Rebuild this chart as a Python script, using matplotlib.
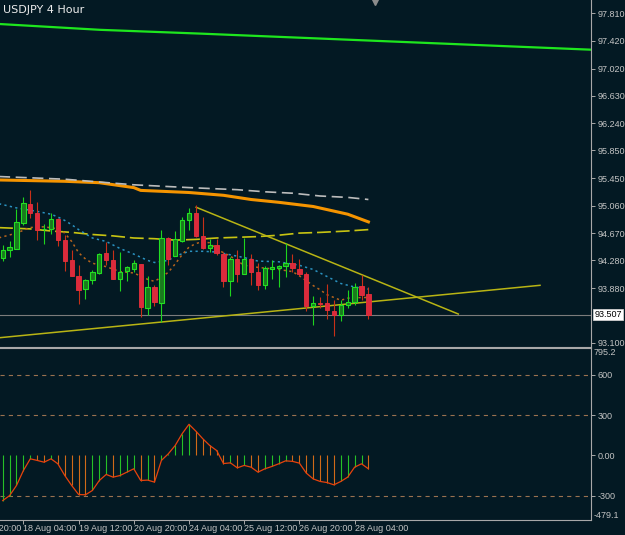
import numpy as np
import matplotlib
matplotlib.use('Agg')
import matplotlib.pyplot as plt
import matplotlib.transforms as mtransforms

plt.rcParams['lines.scale_dashes'] = False
plt.rcParams['font.family'] = ['Liberation Sans Narrow', 'Liberation Sans', 'DejaVu Sans']

# USDJPY H4 bars, bar 0 = 17 Aug 16:00
opens = [94.319, 94.424, 94.448, 94.819, 95.091, 94.962, 94.724, 94.734, 94.876, 94.567,
         94.291, 94.053, 93.867, 93.995, 94.105, 94.386, 94.291, 94.010, 94.124, 94.162,
         94.229, 93.600, 93.900, 93.672, 94.600, 94.338, 94.557, 94.853, 94.962, 94.624,
         94.462, 94.505, 94.376, 93.981, 94.305, 94.081, 94.295, 94.115, 93.924, 94.153,
         94.172, 94.195, 94.248, 94.162, 94.091, 93.629, 93.676, 93.672, 93.557, 93.505,
         93.638, 93.686, 93.910, 93.805]
highs = [94.505, 94.553, 95.010, 95.186, 95.281, 95.115, 94.805, 94.962, 94.886, 94.638,
         94.424, 94.219, 94.019, 94.138, 94.391, 94.543, 94.434, 94.400, 94.200, 94.281,
         94.234, 94.057, 93.934, 94.710, 94.615, 94.700, 94.900, 95.029, 95.067, 94.900,
         94.581, 94.591, 94.400, 94.329, 94.434, 94.600, 94.376, 94.248, 94.200, 94.281,
         94.210, 94.534, 94.376, 94.295, 94.115, 93.772, 93.757, 93.948, 93.710, 93.710,
         93.853, 93.962, 94.067, 93.900]
lows = [94.267, 94.329, 94.438, 94.791, 94.886, 94.567, 94.519, 94.662, 94.486, 94.124,
        94.053, 93.662, 93.724, 93.948, 94.091, 94.210, 94.010, 93.838, 93.981, 94.115,
        93.472, 93.495, 93.629, 93.400, 94.210, 94.338, 94.543, 94.710, 94.615, 94.448,
        94.400, 94.353, 93.900, 93.767, 93.972, 94.081, 93.924, 93.853, 93.876, 94.010,
        93.895, 94.043, 94.115, 94.057, 93.553, 93.362, 93.600, 93.448, 93.200, 93.410,
        93.605, 93.638, 93.719, 93.438]
closes = [94.434, 94.472, 94.829, 95.105, 94.962, 94.710, 94.734, 94.876, 94.567, 94.267,
          94.053, 93.853, 94.005, 94.115, 94.372, 94.281, 94.010, 94.115, 94.181, 94.243,
          93.615, 93.900, 93.686, 94.600, 94.305, 94.581, 94.853, 94.962, 94.624, 94.462,
          94.505, 94.391, 93.981, 94.295, 94.081, 94.305, 94.115, 93.934, 94.172, 94.181,
          94.195, 94.248, 94.172, 94.091, 93.629, 93.672, 93.657, 93.567, 93.505, 93.648,
          93.686, 93.900, 93.791, 93.505]
bid = 93.507

# moving averages, read at a few bars
green_ma_x = [-1, 14.1, 28.6, 85.3]
green_ma = [97.66, 97.574, 97.52, 97.29]
orange_ma_x = [-1, 9, 14, 19, 20, 27, 32, 36, 40, 45, 50, 53]
orange_ma = [95.43, 95.41, 95.39, 95.32, 95.28, 95.25, 95.21, 95.15, 95.11, 95.05, 94.94, 94.83]
gray_ma_x = [-1, 9, 14, 19, 27, 34, 38, 42, 46, 50, 53]
gray_ma = [95.48, 95.44, 95.40, 95.36, 95.32, 95.29, 95.26, 95.24, 95.20, 95.18, 95.15]
yellow_ma_x = [-1, 4, 7, 10, 13, 16, 19, 22, 25, 28, 31, 34, 37, 40, 43, 46, 50, 53]
yellow_ma = [94.75, 94.73, 94.70, 94.68, 94.65, 94.63, 94.60, 94.59, 94.57, 94.58, 94.60,
             94.61, 94.62, 94.64, 94.67, 94.68, 94.70, 94.72]
cyan_ma_x = [-1, 2, 5, 7, 8, 9, 10, 11, 13, 15, 17, 19, 21, 22, 24, 25, 27, 29, 31, 33,
             35, 37, 40, 43, 45, 47, 49, 51, 53]
cyan_ma = [95.10, 95.03, 94.98, 94.94, 94.90, 94.85, 94.79, 94.72, 94.60, 94.55, 94.45,
           94.37, 94.28, 94.25, 94.28, 94.34, 94.41, 94.41, 94.40, 94.36, 94.32, 94.27,
           94.26, 94.21, 94.15, 94.05, 93.95, 93.90, 93.87]
brown_ma_x = [-1, 2, 4, 6, 8, 9, 10, 11, 12, 13, 15, 17, 19, 21, 22, 23, 24, 25, 26, 27,
              28, 29, 30, 31, 32, 33, 35, 37, 40, 42, 43, 44, 45, 46, 47, 48, 49, 50, 52, 53]
brown_ma = [94.59, 94.67, 94.75, 94.76, 94.73, 94.67, 94.55, 94.39, 94.30, 94.24, 94.19,
            94.12, 94.10, 94.01, 93.98, 94.04, 94.11, 94.23, 94.36, 94.47, 94.52, 94.55,
            94.53, 94.44, 94.39, 94.34, 94.21, 94.18, 94.15, 94.12, 94.06, 93.99, 93.92,
            93.86, 93.79, 93.75, 93.71, 93.74, 93.75, 93.75]

# trendlines (bar, price)
trend_up_x = [-0.39, 77.87]
trend_up = [93.176, 93.924]
trend_down_x = [28.04, 66.03]
trend_down = [95.039, 93.514]

# oscillator
osc_vals = [-335, -298, -223, -112, -25, -37, -50, -25, -62, -149,
            -223, -290, -292, -260, -186, -141, -161, -149, -124, -99,
            -186, -183, -198, -37, 12, 74, 161, 231, 180, 124,
            74, 37, -60, -55, -92, -74, -87, -124, -99, -82,
            -62, -40, -44, -57, -131, -174, -193, -201, -218, -193,
            -161, -87, -62, -99]
osc_levels = [600, 300, -300]
osc_ticks = [600, 300, 0, -300]
osc_max, osc_min = 795.2, -479.1

price_ticks = [97.810, 97.420, 97.020, 96.630, 96.240, 95.850, 95.450, 95.060,
               94.670, 94.280, 93.880, 93.100]
time_pos = [-5, 3, 11, 19, 27, 35, 43, 51]
time_labels = ['14 Aug 20:00', '18 Aug 04:00', '19 Aug 12:00', '20 Aug 20:00',
               '24 Aug 04:00', '25 Aug 12:00', '26 Aug 20:00', '28 Aug 04:00']

BG = '#031923'
TXT = '#c4c4c4'
FRAME = '#a8a8a8'

W, H = 625, 535
fig = plt.figure(figsize=(W / 100, H / 100), dpi=100, facecolor=BG)
ax = fig.add_axes([0, 1 - 346.7 / H, 591 / W, 346.7 / H], facecolor=BG)
osc = fig.add_axes([0, 1 - 520 / H, 591 / W, (520 - 348.3) / H], facecolor=BG)

xlim = (-0.39, 85.26)

# ---- main panel
o, h, l, c = map(np.array, (opens, highs, lows, closes))
x = np.arange(len(o))
up = c >= o
wick_col = np.where(up, '#1ed41e', '#c83018')
ax.vlines(x, l, h, colors=wick_col, lw=0.8, zorder=4)
body_h = np.maximum(np.abs(c - o), 0.004)
ax.bar(x[up], body_h[up], bottom=np.minimum(o, c)[up], width=0.62,
       color='#1a7a1e', edgecolor='#22e022', lw=0.8, zorder=5)
ax.bar(x[~up], body_h[~up], bottom=np.minimum(o, c)[~up], width=0.62,
       color='#dc2a3c', edgecolor='#e8303c', lw=0.6, zorder=5)

ax.plot(green_ma_x, green_ma, color='#1ee61e', lw=1.6, zorder=3)
ax.plot(orange_ma_x, orange_ma, color='#f59400', lw=2.2, zorder=3)
ax.plot(gray_ma_x, gray_ma, color='#bcbcbc', lw=1.2, dashes=(8, 4), zorder=3)
ax.plot(yellow_ma_x, yellow_ma, color='#c8c412', lw=1.2, dashes=(10, 3.5), zorder=3)
ax.plot(cyan_ma_x, cyan_ma, color='#2a92c0', lw=1.1, dashes=(1.6, 2.4), zorder=3)
ax.plot(brown_ma_x, brown_ma, color='#b8641c', lw=1.1, dashes=(1.6, 2.4), zorder=3)
ax.plot(trend_up_x, trend_up, color='#b8b414', lw=1.1, zorder=3)
ax.plot(trend_down_x, trend_down, color='#b8b414', lw=1.1, zorder=3)
ax.axhline(bid, color='#7c7c7c', lw=0.8, zorder=2)

ax.set_xlim(*xlim)
ax.set_ylim(98.0 - 0.014286 * 346.7, 98.0)
ax.yaxis.tick_right()
ax.set_yticks(price_ticks)
ax.set_yticklabels(['%.3f' % v for v in price_ticks])
ax.set_xticks([])
ax.tick_params(axis='y', direction='out', length=3, width=0.7, colors=FRAME,
               labelcolor=TXT, labelsize=6.5, pad=1.5)
for s in ('top', 'left'):
    ax.spines[s].set_visible(False)
for s in ('right', 'bottom'):
    ax.spines[s].set_color(FRAME)
    ax.spines[s].set_linewidth(0.8)

bt = mtransforms.blended_transform_factory(ax.transAxes, ax.transData)
ax.text(1.006, bid, '%.3f' % bid, transform=bt, ha='left', va='center', fontsize=6.5,
        color='black', bbox=dict(boxstyle='square,pad=0.12', facecolor='white',
                                 edgecolor='#d0d0d0', lw=0.6), clip_on=False)
tt = mtransforms.blended_transform_factory(ax.transData, ax.transAxes)
ax.plot([53.96], [0.995], marker='v', ms=5, color='#8c8c8c', transform=tt, clip_on=False)

fig.text(3 / W, 1 - 10 / H, 'USDJPY 4 Hour', color='#ececec', fontsize=8,
         family='DejaVu Sans', va='center', ha='left')

# ---- oscillator panel
ov = np.array(osc_vals)
rising = np.r_[True, ov[1:] >= ov[:-1]]
osc.vlines(x, 0, ov, colors=np.where(rising, '#26c026', '#d06a18'), lw=0.8, zorder=3)
osc.plot(x, ov, color='#e8420c', lw=0.9, zorder=4)
for lv in osc_levels:
    osc.axhline(lv, color='#9a7250', lw=0.8, dashes=(3, 3), zorder=1)

osc.set_xlim(*xlim)
osc.set_ylim(osc_min, osc_max)
osc.yaxis.tick_right()
osc.set_yticks(osc_ticks)
osc.set_yticklabels(['600', '300', '0.00', '-300'])
osc.tick_params(axis='y', direction='out', length=3, width=0.7, colors=FRAME,
                labelcolor=TXT, labelsize=6.5, pad=1.5)
osc.text(1.005, 1.0, '%.1f' % osc_max, transform=osc.transAxes, ha='left', va='top',
         fontsize=6.5, color=TXT, clip_on=False)
osc.text(1.005, 0.0, '%.1f' % osc_min, transform=osc.transAxes, ha='left', va='bottom',
         fontsize=6.5, color=TXT, clip_on=False)
osc.spines['left'].set_visible(False)
for s in ('top', 'right', 'bottom'):
    osc.spines[s].set_color(FRAME)
    osc.spines[s].set_linewidth(0.8)

osc.set_xticks([p for p in time_pos if p >= xlim[0]])
osc.set_xticklabels([])
osc.tick_params(axis='x', direction='out', length=3, width=0.7, colors=FRAME)
xt = mtransforms.blended_transform_factory(osc.transData, osc.transAxes)
for p, lab in zip(time_pos, time_labels):
    osc.text(p, -0.049, lab, transform=xt, ha='left', va='center', fontsize=6.5,
             color=TXT, clip_on=False)

fig.savefig('out.png', dpi=100, facecolor=BG)
